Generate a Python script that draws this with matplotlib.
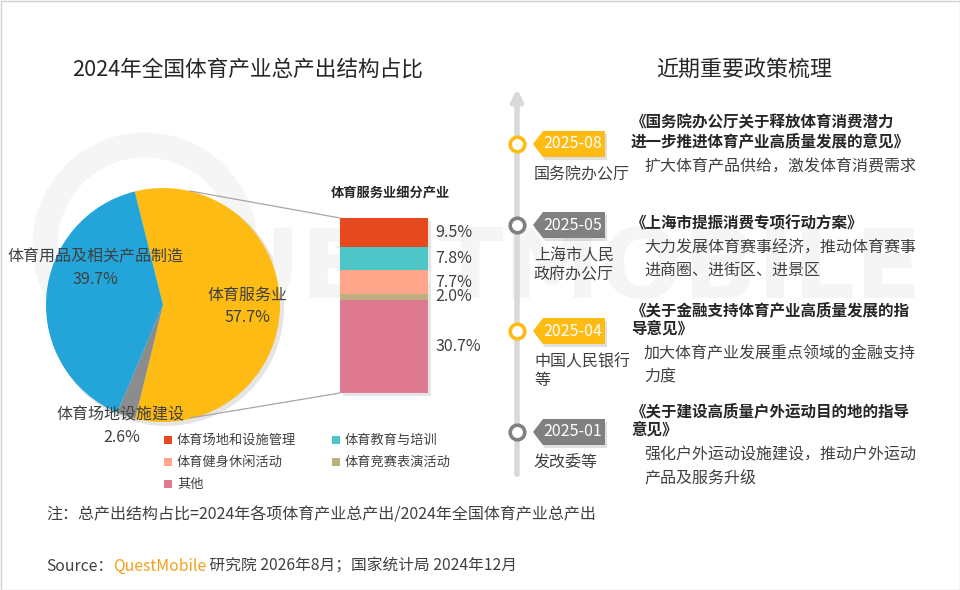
import matplotlib.pyplot as plt
from matplotlib.patches import Polygon, Rectangle, Circle

plt.rcParams['font.family'] = ['Noto Sans CJK SC', 'DejaVu Sans']

# pie data
pie_labels = ['体育服务业', '体育场地设施建设', '体育用品及相关产品制造']
pie_vals = [57.7, 2.6, 39.7]
pie_colors = ['#FDBB13', '#8C8C8C', '#23A5DA']

# service breakdown (bottom -> top)
sub_labels = ['其他', '体育竞赛表演活动', '体育健身休闲活动', '体育教育与培训', '体育场地和设施管理']
sub_vals = [30.7, 2.0, 7.7, 7.8, 9.5]
sub_colors = ['#E07A91', '#BDB07E', '#FFA68A', '#4EC6C7', '#E6491E']

# policy timeline
dates = ['2025-08', '2025-05', '2025-04', '2025-01']
agencies = ['国务院办公厅', '上海市人民\n政府办公厅', '中国人民银行\n等', '发改委等']
policies = ['《国务院办公厅关于释放体育消费潜力\n进一步推进体育产业高质量发展的意见》',
            '《上海市提振消费专项行动方案》',
            '《关于金融支持体育产业高质量发展的指\n导意见》',
            '《关于建设高质量户外运动目的地的指导\n意见》']
descs = ['扩大体育产品供给，激发体育消费需求',
         '大力发展体育赛事经济，推动体育赛事\n进商圈、进街区、进景区',
         '加大体育产业发展重点领域的金融支持\n力度',
         '强化户外运动设施建设，推动户外运动\n产品及服务升级']
tag_colors = ['#FDBB13', '#808080', '#FDBB13', '#808080']

W, H = 960, 590
TXT = '#404040'


def Y(y):
    return H - y


fig = plt.figure(figsize=(9.6, 5.9), dpi=100)

# background layer: border, watermark, shadows
bg = fig.add_axes([0, 0, 1, 1], zorder=0)
bg.set_xlim(0, W)
bg.set_ylim(0, H)
bg.axis('off')
bg.add_patch(Rectangle((0.5, 0.5), W - 1, H - 1, fill=False, ec='#d0d0d0', lw=1))
bg.text(530, Y(272), 'QUESTMOBILE', fontsize=70, fontweight='bold', color='#f5f5f5',
        ha='center', va='center', family='DejaVu Sans')
bg.add_patch(Circle((145, Y(245)), 100, fill=False, ec='#f5f5f5', lw=18))

# pie
cx, cy, r = 163, 305, 117
bg.add_patch(Circle((cx + 3, Y(cy + 3)), r + 1, color='#000000', alpha=0.10, lw=0))
side = 2.5 * r
pax = fig.add_axes([(cx - side / 2) / W, (H - cy - side / 2) / H, side / W, side / H], zorder=1)
pax.pie(pie_vals, colors=pie_colors, startangle=104, counterclock=False,
        wedgeprops=dict(linewidth=0))
pax.axis('off')

# stacked bar
bx0, bx1, by0, by1 = 340, 428, 218, 393
bg.add_patch(Rectangle((bx0 + 3, Y(by1 + 3)), bx1 - bx0, by1 - by0, color='#000000', alpha=0.10, lw=0))
bax = fig.add_axes([bx0 / W, Y(by1) / H, (bx1 - bx0) / W, (by1 - by0) / H], zorder=1)
bottom = 0
for v, c in zip(sub_vals, sub_colors):
    bax.bar(0, v, bottom=bottom, width=1, color=c, linewidth=0)
    bax.text(0.58, bottom + v / 2, f'{v:.1f}%', fontsize=11.5, color=TXT, va='center',
             ha='left', clip_on=False)
    bottom += v
bax.set_xlim(-0.5, 0.5)
bax.set_ylim(0, sum(sub_vals))
bax.axis('off')

# foreground layer
ax = fig.add_axes([0, 0, 1, 1], zorder=2)
ax.set_xlim(0, W)
ax.set_ylim(0, H)
ax.axis('off')

# titles
ax.text(248, Y(70), '2024年全国体育产业总产出结构占比', fontsize=15.6, color='#262626',
        ha='center', va='center')
ax.text(744, Y(70), '近期重要政策梳理', fontsize=15.8, color='#262626', ha='center', va='center')

ax.text(95, Y(257), '体育用品及相关产品制造', fontsize=11.5, color=TXT, ha='center', va='center')
ax.text(95, Y(280), '39.7%', fontsize=11.5, color=TXT, ha='center', va='center')
ax.text(247, Y(295), '体育服务业', fontsize=11.5, color=TXT, ha='center', va='center')
ax.text(247, Y(318), '57.7%', fontsize=11.5, color=TXT, ha='center', va='center')
ax.text(120, Y(415), '体育场地设施建设', fontsize=11.5, color=TXT, ha='center', va='center')
ax.text(122, Y(438), '2.6%', fontsize=11.5, color=TXT, ha='center', va='center')

# connector lines
ax.plot([190, 340], [Y(191), Y(218)], color='#a6a6a6', lw=0.9)
ax.plot([190, 340], [Y(418), Y(393)], color='#a6a6a6', lw=0.9)

ax.text(390, Y(193), '体育服务业细分产业', fontsize=9.5, fontweight='bold', color='#262626',
        ha='center', va='center')

# legend (row-wise, top -> bottom)
leg_order = [4, 3, 2, 1, 0]
for k, i in enumerate(leg_order):
    lx = 168 + (k % 2) * 168
    ly = 440 + (k // 2) * 22
    ax.scatter(lx, Y(ly), marker='s', s=30, color=sub_colors[i], lw=0)
    ax.text(lx + 9, Y(ly), sub_labels[i], fontsize=9.5, color=TXT, va='center', ha='left')

# timeline
tx = 517
ax.annotate('', xy=(tx, Y(86)), xytext=(tx, Y(477)),
            arrowprops=dict(arrowstyle='-|>', color='#d9d9d9', lw=4, mutation_scale=16))
nodes = [144, 225, 331, 432]
for ny, d, ag, po, de, c in zip(nodes, dates, agencies, policies, descs, tag_colors):
    ax.scatter(tx, Y(ny), s=110, facecolor='white', edgecolor=c, linewidth=2.6, zorder=5)
    pts = [(533, Y(ny)), (543, Y(ny - 13)), (605, Y(ny - 13)), (605, Y(ny + 13)), (543, Y(ny + 13))]
    sh = [(x + 2, y - 3) for x, y in pts]
    ax.add_patch(Polygon(sh, closed=True, color='#000000', alpha=0.12, lw=0, zorder=3))
    ax.add_patch(Polygon(pts, closed=True, color=c, lw=0, zorder=4))
    ax.text(573, Y(ny), d, fontsize=11.5, color='white', ha='center', va='center', zorder=6)
    for j, line in enumerate(ag.split('\n')):
        ax.text(534, Y(ny + 31 + j * 19), line, fontsize=11.5, color=TXT, va='center', ha='left')
    plines = po.split('\n')
    n = len(plines)
    for j, line in enumerate(plines):
        ax.text(631, Y(ny - 2 - (n - 1 - j) * 19), line, fontsize=11.2, fontweight='bold',
                color='#262626', va='center', ha='left')
    for j, line in enumerate(de.split('\n')):
        ax.text(644, Y(ny + 23 + j * 23), line, fontsize=11.5, color=TXT, va='center', ha='left')

# note and source
ax.text(46, Y(515), '注：总产出结构占比=2024年各项体育产业总产出/2024年全国体育产业总产出',
        fontsize=11.5, color=TXT, va='center', ha='left')
t1 = ax.text(46, Y(566), 'Source：', fontsize=11.3, color=TXT, va='center', ha='left')
t2 = ax.annotate('QuestMobile', xy=(1, 0.5), xycoords=t1, fontsize=11.3, color='#F5A01A',
                 va='center', ha='left')
ax.annotate(' 研究院 2026年8月；国家统计局 2024年12月', xy=(1, 0.5), xycoords=t2,
            fontsize=11.3, color=TXT, va='center', ha='left')

fig.savefig('out.png', dpi=100)
